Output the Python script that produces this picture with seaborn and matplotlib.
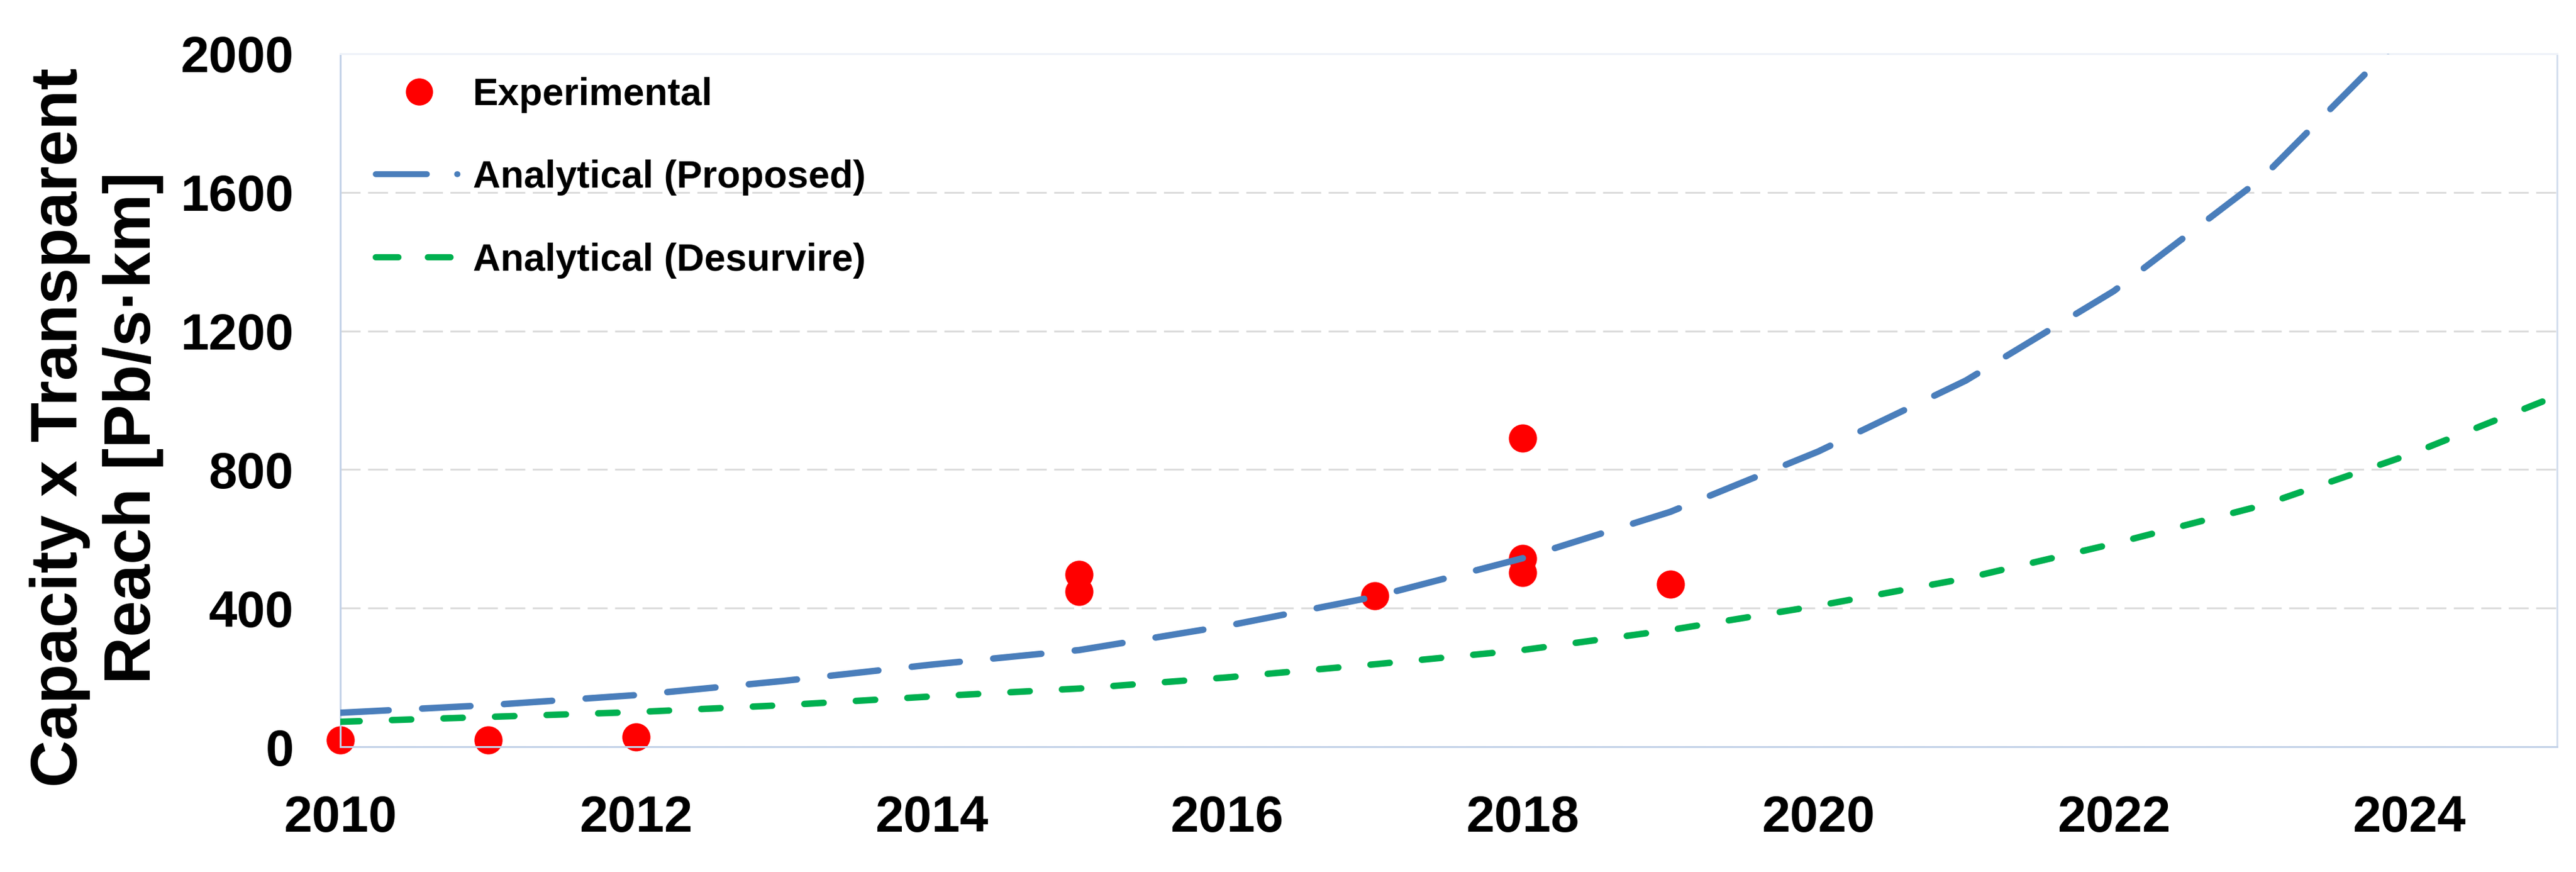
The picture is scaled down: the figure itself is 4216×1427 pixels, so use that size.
import matplotlib
matplotlib.use("Agg")
import matplotlib.pyplot as plt
from matplotlib.lines import Line2D
import seaborn as sns
import pandas as pd

# ---------------- data ----------------
exp_years = [2010, 2011, 2012, 2015, 2015, 2017, 2018, 2018, 2018, 2019]
exp_values = [20, 20, 28, 498, 448, 436, 890, 544, 502, 469]

proposed_years = [2010, 2011, 2012, 2013, 2014, 2015, 2016, 2017, 2018,
                  2019, 2020, 2021, 2022, 2023, 2024]
proposed_values = [98, 120, 149, 190, 237, 279, 349, 433, 544,
                   678, 852, 1057, 1315, 1640, 2070]

desurvire_years = [2010, 2011, 2012, 2013, 2014, 2015, 2016, 2017, 2018,
                   2019, 2020, 2021, 2022, 2023, 2024, 2025]
desurvire_values = [72, 86, 100, 120, 145, 168, 200, 238, 279,
                    337, 407, 486, 586, 696, 843, 1013]

x_ticks = [2010, 2012, 2014, 2016, 2018, 2020, 2022, 2024]
y_ticks = [0, 400, 800, 1200, 1600, 2000]
legend_labels = ["Experimental", "Analytical (Proposed)", "Analytical (Desurvire)"]
y_label = "Capacity x Transparent\nReach [Pb/s\u00b7km]"

# ---------------- style ----------------
RED = "#ff0000"
BLUE = "#4a7ebb"
GREEN = "#00b050"
FONT = ["Liberation Sans", "DejaVu Sans"]

sns.set_style("white")
plt.rcParams["font.family"] = FONT
plt.rcParams["font.weight"] = "bold"
plt.rcParams["text.color"] = "black"
plt.rcParams["axes.labelcolor"] = "black"
plt.rcParams["xtick.color"] = "black"
plt.rcParams["ytick.color"] = "black"

W, H = 4216, 1427
fig = plt.figure(figsize=(W / 100, H / 100), dpi=100)
left, right, top, bottom = 557, 4185, 88, 1222
ax = fig.add_axes([left / W, 1 - bottom / H, (right - left) / W, (bottom - top) / H])

exp_df = pd.DataFrame({"year": exp_years, "value": exp_values})
prop_df = pd.DataFrame({"year": proposed_years, "value": proposed_values})
des_df = pd.DataFrame({"year": desurvire_years, "value": desurvire_values})

sns.scatterplot(data=exp_df, x="year", y="value", ax=ax, color=RED, s=1100,
                linewidth=0, clip_on=False, zorder=2, legend=False)
sns.lineplot(data=des_df, x="year", y="value", ax=ax, color=GREEN, lw=7.6,
             linestyle=(0, (3.0, 5.0)), dash_capstyle="round", zorder=3,
             legend=False, errorbar=None)
sns.lineplot(data=prop_df, x="year", y="value", ax=ax, color=BLUE, lw=7.6,
             linestyle=(0, (7.5, 5.2)), dash_capstyle="round", zorder=4,
             legend=False, errorbar=None)

ax.set_xlim(2010, 2025)
ax.set_ylim(0, 2000)
ax.set_xticks(x_ticks)
ax.set_yticks(y_ticks)
ax.set_xticklabels([str(t) for t in x_ticks])
ax.set_yticklabels([str(t) for t in y_ticks])
ax.tick_params(axis="both", length=0, labelsize=60, colors="black")
ax.tick_params(axis="x", pad=56)
ax.tick_params(axis="y", pad=55)
for lab in ax.get_xticklabels() + ax.get_yticklabels():
    lab.set_fontweight("bold")
    lab.set_color("black")

ax.set_xlabel("")
ax.set_ylabel(y_label, fontsize=77, fontweight="bold", linespacing=1.25, color="black")
ax.yaxis.set_label_coords((268 - left) / (right - left), (bottom - 700) / (bottom - top))

ax.yaxis.grid(True, color="#dcdcdc", lw=2.2, linestyle=(0, (10.7, 4)))
ax.xaxis.grid(False)
ax.set_axisbelow(True)

ax.spines["left"].set_color("#c3d2e8")
ax.spines["bottom"].set_color("#c3d2e8")
ax.spines["right"].set_color("#d3deee")
ax.spines["top"].set_color("#eef2f8")
for s in ax.spines.values():
    s.set_linewidth(2.2)
    s.set_visible(True)

handles = [
    Line2D([], [], linestyle="none", marker="o", markersize=32,
           markerfacecolor=RED, markeredgewidth=0),
    Line2D([], [], color=BLUE, lw=7.0, linestyle=(0, (8.6, 5.1, 0.05, 10)),
           dash_capstyle="round"),
    Line2D([], [], color=GREEN, lw=7.4, linestyle=(0, (3.6, 4.7)),
           dash_capstyle="round"),
]
leg = ax.legend(handles, legend_labels, loc="upper left",
                bbox_to_anchor=(615 / W, 1 - 126 / H), bbox_transform=fig.transFigure,
                frameon=False, borderpad=0, borderaxespad=0,
                handlelength=2.27, handletextpad=0.27, labelspacing=1.22,
                prop={"family": FONT, "weight": "bold", "size": 45})
for t in leg.get_texts():
    t.set_color("black")

fig.savefig("out.png", dpi=100, facecolor="white")
